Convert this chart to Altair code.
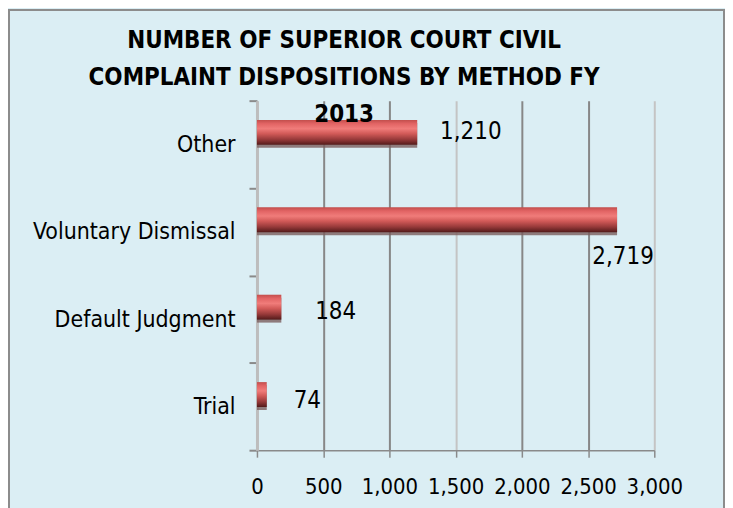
import altair as alt
import pandas as pd

categories = ["Other", "Voluntary Dismissal", "Default Judgment", "Trial"]
values = [1210, 2719, 184, 74]
labels = ["1,210", "2,719", "184", "74"]
x_ticks = [0, 500, 1000, 1500, 2000, 2500, 3000]
title_lines = ["NUMBER OF SUPERIOR COURT CIVIL", "COMPLAINT DISPOSITIONS BY METHOD  FY", "2013"]

df = pd.DataFrame({"method": categories, "count": values, "label": labels})

FONT = "Liberation Sans Narrow, DejaVu Sans Condensed, Open Sans, sans-serif"

grad = alt.Gradient(
    gradient="linear", x1=0, y1=0, x2=0, y2=1,
    stops=[
        alt.GradientStop(offset=0.0, color="#C24E4C"),
        alt.GradientStop(offset=0.15, color="#E26464"),
        alt.GradientStop(offset=0.35, color="#F07C7A"),
        alt.GradientStop(offset=0.55, color="#D25A58"),
        alt.GradientStop(offset=0.78, color="#983A3A"),
        alt.GradientStop(offset=1.0, color="#521A1A"),
    ],
)

y_enc = alt.Y(
    "method:N", sort=categories, title=None,
    scale=alt.Scale(paddingInner=0, paddingOuter=0),
    axis=alt.Axis(
        tickBand="extent", labelFontSize=23, labelFont=FONT, labelColor="#000000",
        labelPadding=14, labelLimit=0, tickSize=8, tickColor="#8A8A8A", tickWidth=2,
        domainColor="#BDBDBD", domainWidth=3,
    ),
)
x_enc = alt.X(
    "count:Q", title=None,
    scale=alt.Scale(domain=[0, 3000], nice=False),
    axis=alt.Axis(
        values=x_ticks, labelExpr="format(datum.value, ',')", labelOverlap=False,
        labelFlush=False,
        labelFontSize=22, labelFont=FONT, labelColor="#000000",
        labelPadding=19, tickSize=7, tickColor="#8A8A8A", tickWidth=1.5,
        domainColor="#8A8A8A", domainWidth=1.5,
        grid=True, gridWidth=2,
        gridColor={"condition": {"test": "datum.value == 0 || datum.value == 1500 || datum.value == 3000", "value": "#C4C4C4"}, "value": "#878787"},
    ),
)

shadow = alt.Chart(df).mark_bar(
    size=25, yOffset=-9, color="#7A5E5E", opacity=0.8
).encode(x=x_enc, y=y_enc)

bars = alt.Chart(df).mark_bar(size=25, yOffset=-12, color=grad).encode(x=x_enc, y=y_enc)

offsets = {
    "Other": dict(dx=23, dy=-12, align="left"),
    "Voluntary Dismissal": dict(dx=6, dy=25, align="center"),
    "Default Judgment": dict(dx=34, dy=-7, align="left"),
    "Trial": dict(dx=27, dy=-5, align="left"),
}
texts = []
for cat in categories:
    o = offsets[cat]
    texts.append(
        alt.Chart(df).transform_filter(alt.datum.method == cat).mark_text(
            baseline="middle", fontSize=24, font=FONT, color="#000000", **o
        ).encode(x=x_enc, y=y_enc, text="label:N")
    )

frame = alt.Chart(pd.DataFrame({"f": [0]})).mark_rect(
    fill=None, stroke="#8C8C8C", strokeWidth=2
).encode(
    x=alt.value(-249), x2=alt.value(469), y=alt.value(-91), y2=alt.value(460)
)

chart = alt.layer(shadow, bars, *texts, frame).properties(
    width=399, height=351,
    padding={"left": 250, "top": 92, "right": 71, "bottom": 57},
    autosize=alt.AutoSizeParams(type="none"),
    background="#DBEEF4",
    title=alt.TitleParams(
        text=title_lines, font=FONT, fontSize=24, fontWeight="bold", color="#000000",
        anchor="middle", align="center", baseline="alphabetic", lineHeight=37,
        offset=0, dx=-112, dy=137,
    ),
).configure_view(stroke=None)

chart.save("out.html", embed_options={"renderer": "svg", "actions": False})
